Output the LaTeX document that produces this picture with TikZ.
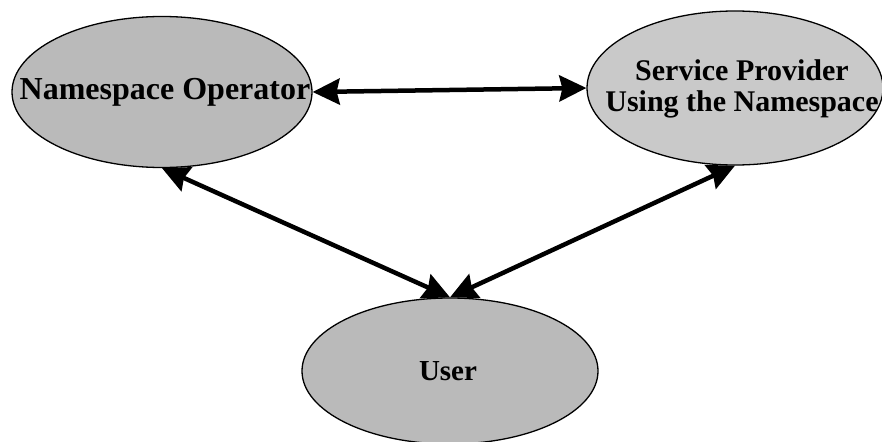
\documentclass[tikz,border=0pt]{standalone}
\usepackage{fontspec}
\setmainfont{Liberation Serif}
\usetikzlibrary{shapes.geometric}
\usetikzlibrary{arrows.meta}
\tikzset{
  oval_party/.style={ellipse, draw, line width=1.3pt, color=black!100, fill=black!27, inner sep = 0},
  oval_light/.style={ellipse, draw, line width=1.3pt, color=black!100, fill=black!21, inner sep = 0},
  oval_text/.style={align=center, font=\bfseries\fontsize{30}{31}\selectfont, inner sep = 0},
  arrow_link/.style={{Stealth[length=27pt,width=26pt,inset=3pt]}-{Stealth[length=27pt,width=26pt,inset=3pt]}, line width=4.5pt, color=black!100}
}
\begin{document}
\begin{tikzpicture}[x=1pt, y=-1pt]
\useasboundingbox (0,0) rectangle (882,441);

\node[oval_party, minimum width=300pt, minimum height=151pt] at (162,92)  (op) {};
\node[oval_light, minimum width=296pt, minimum height=154pt] at (735,88)  (sp) {};
\node[oval_party, minimum width=296pt, minimum height=146pt] at (450,371) (user) {};

\node[oval_text, font=\bfseries\fontsize{32}{33}\selectfont] at (165,92) (opt) {Namespace Operator};
\node[oval_text, font=\bfseries\fontsize{30}{31}\selectfont] at (742,89) (spt) {Service Provider\\Using the Namespace};
\node[oval_text, font=\bfseries\fontsize{29}{30}\selectfont] at (448,371) (usert) {User};

%% Links
\draw[arrow_link] (op.east) -- (sp.west) ;
\draw[arrow_link] (op.south) -- (user.north) ;
\draw[arrow_link] (sp.south) -- (user.north) ;

\end{tikzpicture}
\end{document}
